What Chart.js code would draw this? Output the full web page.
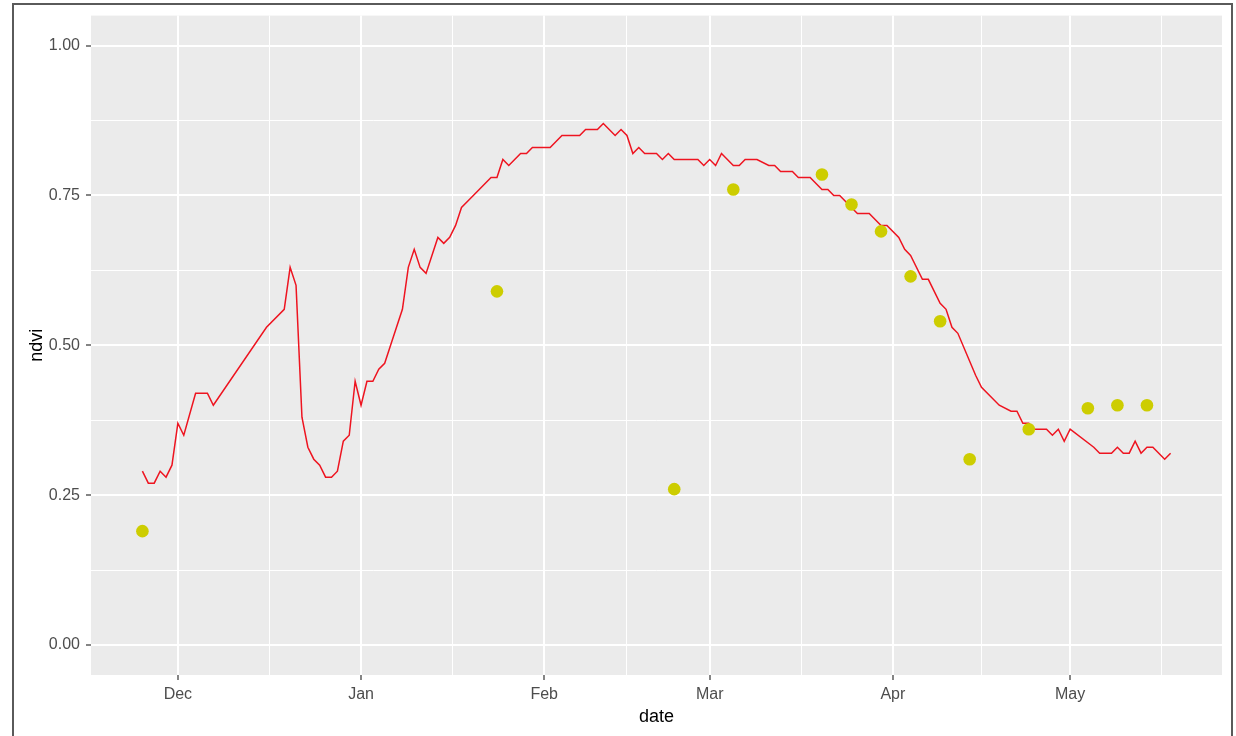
<!DOCTYPE html>
<html>
<head>
<meta charset="utf-8">
<script src="https://cdn.jsdelivr.net/npm/chart.js@4/dist/chart.umd.min.js"></script>
<style>
  html, body { margin: 0; padding: 0; background: #ffffff; }
  #wrap { position: relative; width: 1236px; height: 736px; overflow: hidden; }
  #c { position: absolute; left: 0; top: 0; }
  #frame {
    position: absolute; left: 12px; top: 3px; width: 1217px; height: 731px;
    border-left: 2px solid #5a5a5a; border-top: 2px solid #5a5a5a;
    border-right: 2px solid #5a5a5a; border-bottom: 1px solid #c8c8c8;
    pointer-events: none;
  }
</style>
</head>
<body>
<div id="wrap">
  <canvas id="c" width="1236" height="736"></canvas>
  <div id="frame"></div>
</div>
<script>
// Daily smoothed NDVI curve (vertices of the red line)
const lineDates = [
  '2018-11-25','2018-11-26','2018-11-27','2018-11-28','2018-11-29','2018-11-30',
  '2018-12-01','2018-12-02','2018-12-04','2018-12-06','2018-12-07','2018-12-16',
  '2018-12-19','2018-12-20','2018-12-21','2018-12-22','2018-12-23','2018-12-24',
  '2018-12-25','2018-12-26','2018-12-27','2018-12-28','2018-12-29','2018-12-30',
  '2018-12-31','2019-01-01','2019-01-02','2019-01-03','2019-01-04','2019-01-05',
  '2019-01-06','2019-01-07','2019-01-08','2019-01-09','2019-01-10','2019-01-11',
  '2019-01-12','2019-01-14','2019-01-15','2019-01-16','2019-01-17','2019-01-18',
  '2019-01-19','2019-01-21','2019-01-23','2019-01-24','2019-01-25','2019-01-26',
  '2019-01-27','2019-01-28','2019-01-29','2019-01-30','2019-02-02','2019-02-03',
  '2019-02-04','2019-02-07','2019-02-08','2019-02-10','2019-02-11','2019-02-13',
  '2019-02-14','2019-02-15','2019-02-16','2019-02-17','2019-02-18','2019-02-20',
  '2019-02-21','2019-02-22','2019-02-23','2019-02-27','2019-02-28','2019-03-01',
  '2019-03-02','2019-03-03','2019-03-05','2019-03-06','2019-03-07','2019-03-09',
  '2019-03-11','2019-03-12','2019-03-13','2019-03-15','2019-03-16','2019-03-18',
  '2019-03-20','2019-03-21','2019-03-22','2019-03-23','2019-03-25','2019-03-26',
  '2019-03-28','2019-03-30','2019-03-31','2019-04-02','2019-04-03','2019-04-04',
  '2019-04-06','2019-04-07','2019-04-09','2019-04-10','2019-04-11','2019-04-12',
  '2019-04-15','2019-04-16','2019-04-19','2019-04-21','2019-04-22','2019-04-23',
  '2019-04-24','2019-04-25','2019-04-27','2019-04-28','2019-04-29','2019-04-30',
  '2019-05-01','2019-05-05','2019-05-06','2019-05-08','2019-05-09','2019-05-10',
  '2019-05-11','2019-05-12','2019-05-13','2019-05-14','2019-05-15','2019-05-17',
  '2019-05-18'
];
const lineNdvi = [
  0.29, 0.27, 0.27, 0.29, 0.28, 0.30,
  0.37, 0.35, 0.42, 0.42, 0.40, 0.53,
  0.56, 0.63, 0.60, 0.38, 0.33, 0.31,
  0.30, 0.28, 0.28, 0.29, 0.34, 0.35,
  0.44, 0.40, 0.44, 0.44, 0.46, 0.47,
  0.50, 0.53, 0.56, 0.63, 0.66, 0.63,
  0.62, 0.68, 0.67, 0.68, 0.70, 0.73,
  0.74, 0.76, 0.78, 0.78, 0.81, 0.80,
  0.81, 0.82, 0.82, 0.83, 0.83, 0.84,
  0.85, 0.85, 0.86, 0.86, 0.87, 0.85,
  0.86, 0.85, 0.82, 0.83, 0.82, 0.82,
  0.81, 0.82, 0.81, 0.81, 0.80, 0.81,
  0.80, 0.82, 0.80, 0.80, 0.81, 0.81,
  0.80, 0.80, 0.79, 0.79, 0.78, 0.78,
  0.76, 0.76, 0.75, 0.75, 0.73, 0.72,
  0.72, 0.70, 0.70, 0.68, 0.66, 0.65,
  0.61, 0.61, 0.57, 0.56, 0.53, 0.52,
  0.45, 0.43, 0.40, 0.39, 0.39, 0.37,
  0.37, 0.36, 0.36, 0.35, 0.36, 0.34,
  0.36, 0.33, 0.32, 0.32, 0.33, 0.32,
  0.32, 0.34, 0.32, 0.33, 0.33, 0.31,
  0.32
];

// Satellite observations (yellow points)
const obsDates = [
  '2018-11-25','2019-01-24','2019-02-23','2019-03-05','2019-03-20','2019-03-25',
  '2019-03-30','2019-04-04','2019-04-09','2019-04-14','2019-04-24','2019-05-04',
  '2019-05-09','2019-05-14'
];
const obsNdvi = [
  0.19, 0.59, 0.26, 0.76, 0.785, 0.735,
  0.69, 0.615, 0.54, 0.31, 0.36, 0.395,
  0.40, 0.40
];

// Axis breaks
const monthBreaks = ['2018-11-01','2018-12-01','2019-01-01','2019-02-01','2019-03-01',
                     '2019-04-01','2019-05-01','2019-06-01'];
const monthLabels = ['Nov','Dec','Jan','Feb','Mar','Apr','May','Jun'];
const yBreaks = [0, 0.25, 0.5, 0.75, 1];
const yLabels = ['0.00', '0.25', '0.50', '0.75', '1.00'];

const toDay = s => {
  const [y, m, d] = s.split('-').map(Number);
  return Date.UTC(y, m - 1, d) / 86400000;
};

const lineData = lineDates.map((d, i) => ({ x: toDay(d), y: lineNdvi[i] }));
const obsData = obsDates.map((d, i) => ({ x: toDay(d), y: obsNdvi[i] }));

// ggplot-style 5% expansion of the date range
const allX = lineData.concat(obsData).map(p => p.x);
const lo = Math.min(...allX), hi = Math.max(...allX);
const xMin = lo - 0.05 * (hi - lo), xMax = hi + 0.05 * (hi - lo);
const yMin = -0.05, yMax = 1.05;

const majorX = monthBreaks.map(toDay);
const minorX = [];
for (let i = 0; i < majorX.length - 1; i++) minorX.push((majorX[i] + majorX[i + 1]) / 2);
const majorXSet = new Set(majorX);
const minorY = [];
for (let i = 0; i < yBreaks.length - 1; i++) minorY.push((yBreaks[i] + yBreaks[i + 1]) / 2);
const majorYSet = new Set(yBreaks);

const FONT = '"Liberation Sans", Arial, sans-serif';
const TXT = '#4d4d4d';

const panelBg = {
  id: 'panelBg',
  beforeDraw(chart) {
    const { ctx, chartArea: a } = chart;
    ctx.save();
    ctx.fillStyle = '#ffffff';
    ctx.fillRect(0, 0, chart.width, chart.height);
    ctx.fillStyle = '#ebebeb';
    ctx.fillRect(a.left, a.top, a.right - a.left, a.bottom - a.top);
    ctx.restore();
  }
};

new Chart(document.getElementById('c'), {
  data: {
    datasets: [
      {
        type: 'scatter',
        data: obsData,
        order: 0,
        pointRadius: 6.3,
        pointHoverRadius: 6.3,
        backgroundColor: '#cdcd00',
        borderWidth: 0
      },
      {
        type: 'line',
        data: lineData,
        order: 1,
        borderColor: '#ee1420',
        borderWidth: 1.5,
        pointRadius: 0,
        tension: 0,
        fill: false
      }
    ]
  },
  options: {
    responsive: false,
    devicePixelRatio: 1,
    animation: false,
    events: [],
    layout: { padding: { left: 0, top: 15, right: 14, bottom: 0 } },
    plugins: { legend: { display: false }, tooltip: { enabled: false } },
    scales: {
      x: {
        type: 'linear',
        position: 'bottom',
        min: xMin,
        max: xMax,
        afterBuildTicks: s => {
          s.ticks = majorX.concat(minorX)
            .filter(v => v >= xMin && v <= xMax)
            .sort((a, b) => a - b)
            .map(v => ({ value: v }));
        },
        afterFit: s => { s.height = 61; },
        border: { display: false },
        grid: {
          color: '#ffffff',
          lineWidth: c => (c.tick && majorXSet.has(c.tick.value)) ? 2 : 1,
          tickColor: c => (c.tick && majorXSet.has(c.tick.value)) ? '#333333' : 'rgba(0,0,0,0)',
          tickLength: 5,
          tickWidth: 1.2
        },
        ticks: {
          autoSkip: false,
          maxRotation: 0,
          padding: 5,
          color: TXT,
          font: { family: FONT, size: 16 },
          callback: v => {
            const i = majorX.indexOf(v);
            return i >= 0 ? monthLabels[i] : '';
          }
        },
        title: {
          display: true,
          text: 'date',
          color: '#000000',
          font: { family: FONT, size: 18 },
          padding: { top: 0, bottom: 8 }
        }
      },
      y: {
        type: 'linear',
        min: yMin,
        max: yMax,
        afterBuildTicks: s => {
          s.ticks = yBreaks.concat(minorY).sort((a, b) => a - b).map(v => ({ value: v }));
        },
        afterFit: s => { s.width = 91; },
        border: { display: false },
        grid: {
          color: '#ffffff',
          lineWidth: c => (c.tick && majorYSet.has(c.tick.value)) ? 2 : 1,
          tickColor: c => (c.tick && majorYSet.has(c.tick.value)) ? '#333333' : 'rgba(0,0,0,0)',
          tickLength: 5,
          tickWidth: 1.2
        },
        ticks: {
          autoSkip: false,
          padding: 6,
          color: TXT,
          font: { family: FONT, size: 16 },
          callback: v => {
            const i = yBreaks.indexOf(v);
            return i >= 0 ? yLabels[i] : '';
          }
        },
        title: {
          display: true,
          text: 'ndvi',
          color: '#000000',
          font: { family: FONT, size: 18 },
          padding: { top: 26, bottom: 0 }
        }
      }
    }
  },
  plugins: [panelBg]
});
</script>
</body>
</html>
